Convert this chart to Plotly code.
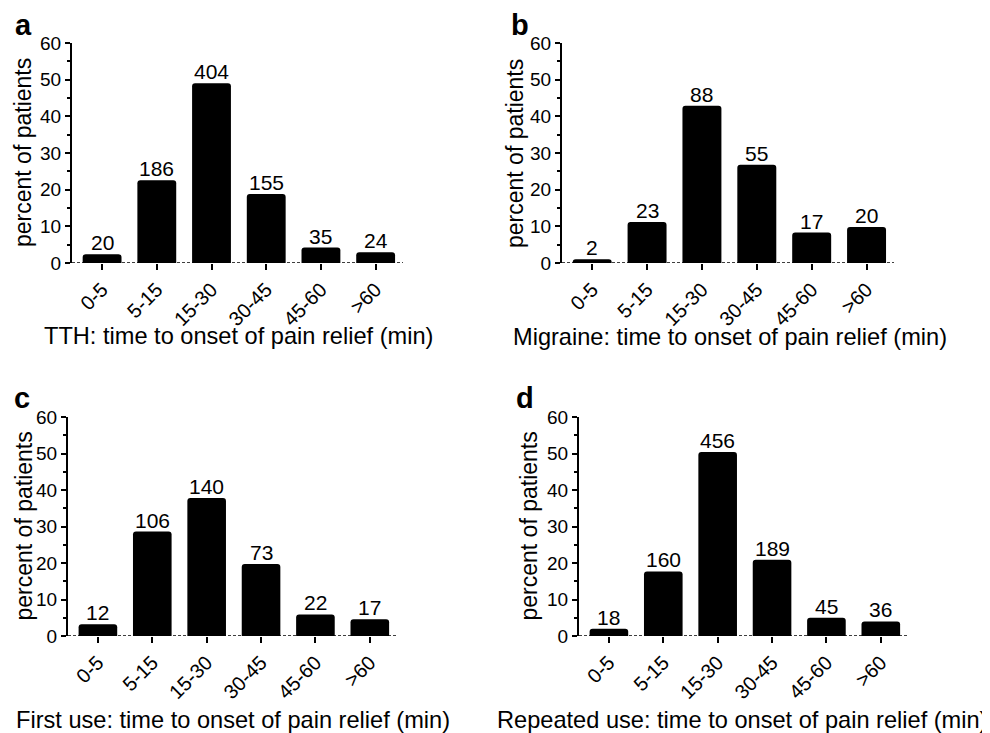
import plotly.graph_objects as go

categories = ["0-5", "5-15", "15-30", "30-45", "45-60", ">60"]

tth_pct = [2.4, 22.6, 49.0, 18.8, 4.2, 2.9]
tth_n = [20, 186, 404, 155, 35, 24]

mig_pct = [1.0, 11.2, 42.9, 26.8, 8.3, 9.8]
mig_n = [2, 23, 88, 55, 17, 20]

first_pct = [3.2, 28.6, 37.8, 19.7, 5.9, 4.6]
first_n = [12, 106, 140, 73, 22, 17]

rep_pct = [2.0, 17.7, 50.4, 20.9, 5.0, 4.0]
rep_n = [18, 160, 456, 189, 45, 36]

panel_letters = ["a", "b", "c", "d"]
x_titles = [
    "TTH: time to onset of pain relief (min)",
    "Migraine: time to onset of pain relief (min)",
    "First use: time to onset of pain relief (min)",
    "Repeated use: time to onset of pain relief (min)",
]
y_title = "percent of patients"
y_ticks = [0, 10, 20, 30, 40, 50, 60]

W, H = 990, 733
OFF = 8  # page body margin of the exported html
FONT = "Arial, 'Liberation Sans', Helvetica, sans-serif"


def px(x):
    return (x - OFF) / W


def py(y):
    return 1 - (y - OFF) / H


# panel geometry in window pixels: (left, right, top, bottom)
panels = [
    (72, 403, 43, 263),
    (562, 894, 43, 263),
    (68, 397, 417, 636),
    (579, 908, 417, 636),
]
series = [(tth_pct, tth_n), (mig_pct, mig_n), (first_pct, first_n), (rep_pct, rep_n)]
ytitle_x = [23, 515, 23, 528]
xtitle_x = [238, 730, 233, 742]
xtitle_y = [336, 337, 720, 720]
letter_pos = [(23, 25), (520, 25), (22, 398), (525, 398)]

fig = go.Figure()
layout = dict(
    width=W, height=H,
    margin=dict(l=0, r=0, t=0, b=0, pad=0, autoexpand=False),
    paper_bgcolor="white", plot_bgcolor="white",
    showlegend=False,
    font=dict(family=FONT, color="black"),
    annotations=[], shapes=[],
)

for i, ((l, r, t, b), (pct, n)) in enumerate(zip(panels, series)):
    k = "" if i == 0 else str(i + 1)
    xs = list(range(len(categories)))
    fig.add_trace(go.Bar(
        x=xs, y=pct,
        marker=dict(color="black", line=dict(width=0), cornerradius=3),
        width=0.71, hoverinfo="x+y",
        xaxis="x" + k, yaxis="y" + k,
    ))
    for xv, yv, nv in zip(xs, pct, n):
        layout["annotations"].append(dict(
            text=str(nv), x=xv, y=yv, xref="x" + k, yref="y" + k,
            xanchor="center", yanchor="bottom", yshift=-2, showarrow=False,
            font=dict(size=21, color="black", family=FONT),
        ))
    layout["xaxis" + k] = dict(
        domain=[px(l), px(r)], anchor="y" + k,
        range=[-0.55, 5.5], automargin=False,
        tickmode="array", tickvals=xs, ticktext=categories,
        tickangle=-45, ticks="outside", ticklen=6, tickwidth=2, tickcolor="black",
        tickfont=dict(size=20, color="black", family=FONT),
        showline=False, showgrid=False, zeroline=False, fixedrange=True,
    )
    layout["yaxis" + k] = dict(
        domain=[py(b), py(t)], anchor="x" + k,
        range=[0, 60], tickvals=y_ticks, automargin=False,
        ticks="outside", ticklen=5, tickwidth=2, tickcolor="black",
        minor=dict(dtick=5, ticks="outside", ticklen=3, tickwidth=2, tickcolor="black"),
        tickfont=dict(size=19, color="black", family=FONT),
        showline=True, linewidth=2, linecolor="black",
        showgrid=False, zeroline=False, fixedrange=True,
    )
    layout["shapes"].append(dict(
        type="line", xref="x" + k + " domain", yref="y" + k,
        x0=0, x1=1, y0=0, y1=0,
        line=dict(color="black", width=1.5, dash="3px,2px"),
    ))
    layout["annotations"].append(dict(
        text=y_title, textangle=-90, showarrow=False,
        xref="paper", yref="paper",
        x=px(ytitle_x[i]), y=py((t + b) / 2),
        xanchor="center", yanchor="middle",
        font=dict(size=23, color="black", family=FONT),
    ))
    layout["annotations"].append(dict(
        text=x_titles[i], showarrow=False,
        xref="paper", yref="paper",
        x=px(xtitle_x[i]), y=py(xtitle_y[i]),
        xanchor="center", yanchor="middle",
        font=dict(size=23.6, color="black", family=FONT),
    ))
    lx, ly = letter_pos[i]
    layout["annotations"].append(dict(
        text="<b>" + panel_letters[i] + "</b>", showarrow=False,
        xref="paper", yref="paper",
        x=px(lx), y=py(ly),
        xanchor="center", yanchor="middle",
        font=dict(size=29, color="black", family=FONT),
    ))

fig.update_layout(**layout)
fig.write_html("out.html")
